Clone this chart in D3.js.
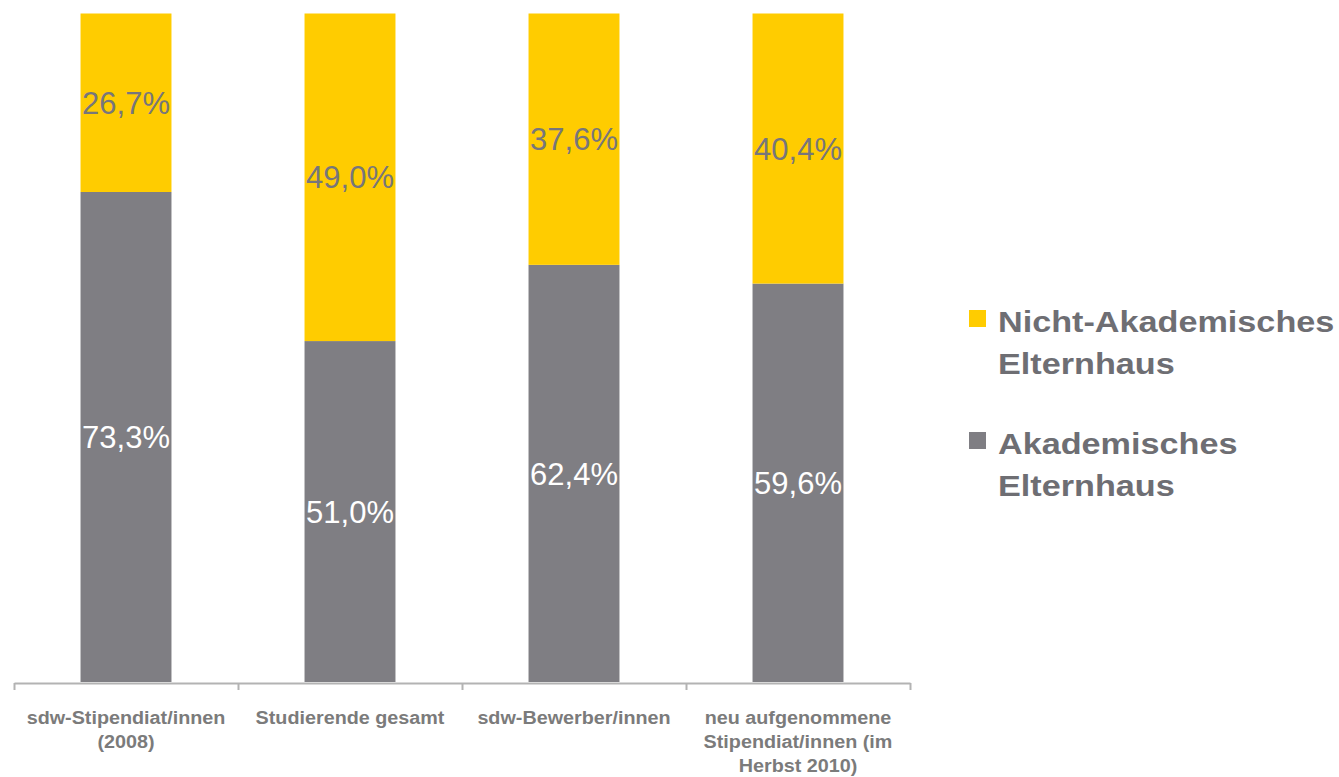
<!DOCTYPE html>
<html>
<head>
<meta charset="utf-8">
<script src="https://cdn.jsdelivr.net/npm/d3@7"></script>
<style>
  body { margin: 0; background: #fff; }
  svg { display: block; font-family: "Liberation Sans", Arial, sans-serif; }
</style>
</head>
<body>
<div id="chart"></div>
<script>
// Data
const categories = [
    ["sdw-Stipendiat/innen", "(2008)"],
    ["Studierende gesamt"],
    ["sdw-Bewerber/innen"],
    ["neu aufgenommene", "Stipendiat/innen (im", "Herbst 2010)"]
];
const akademisch = [73.3, 51.0, 62.4, 59.6];
const nichtAkademisch = [26.7, 49.0, 37.6, 40.4];
const legendItems = [
    {lines: ["Nicht-Akademisches", "Elternhaus"], color: "#ffcc00"},
    {lines: ["Akademisches", "Elternhaus"], color: "#7f7e83"}
];

const W = 1339, H = 777;
const svg = d3.select("#chart").append("svg")
    .attr("width", W)
    .attr("height", H);

const fmt = v => v.toFixed(1).replace(".", ",") + "%";

// Scales
const xScale = d3.scaleBand()
    .domain(d3.range(categories.length))
    .range([14, 910])
    .padding(0);
const edgeScale = d3.scaleLinear()
    .domain([0, categories.length])
    .range([14, 910]);
const yScale = d3.scaleLinear()
    .domain([0, 100])
    .range([682, 13.5]);

const barW = xScale.bandwidth() * 0.406;

// Stack data
const rows = categories.map((c, i) => ({i: i, ak: akademisch[i], nak: nichtAkademisch[i]}));

// Grey (Akademisch) segments at bottom
svg.selectAll(".bar-ak")
    .data(rows)
    .enter()
    .append("rect")
    .attr("class", "bar-ak")
    .attr("x", d => xScale(d.i) + (xScale.bandwidth() - barW) / 2)
    .attr("y", d => yScale(d.ak))
    .attr("width", barW)
    .attr("height", d => yScale(0) - yScale(d.ak))
    .style("fill", "#7f7e83");

// Yellow (Nicht-Akademisch) segments on top
svg.selectAll(".bar-nak")
    .data(rows)
    .enter()
    .append("rect")
    .attr("class", "bar-nak")
    .attr("x", d => xScale(d.i) + (xScale.bandwidth() - barW) / 2)
    .attr("y", d => yScale(d.ak + d.nak))
    .attr("width", barW)
    .attr("height", d => yScale(d.ak) - yScale(d.ak + d.nak))
    .style("fill", "#ffcc00");

// Value labels
svg.selectAll(".lbl-ak")
    .data(rows)
    .enter()
    .append("text")
    .attr("x", d => xScale(d.i) + xScale.bandwidth() / 2)
    .attr("y", d => (yScale(0) + yScale(d.ak)) / 2)
    .attr("dy", "0.36em")
    .attr("text-anchor", "middle")
    .style("font-size", "31px")
    .style("fill", "#ffffff")
    .text(d => fmt(d.ak));

svg.selectAll(".lbl-nak")
    .data(rows)
    .enter()
    .append("text")
    .attr("x", d => xScale(d.i) + xScale.bandwidth() / 2)
    .attr("y", d => (yScale(d.ak) + yScale(d.ak + d.nak)) / 2)
    .attr("dy", "0.36em")
    .attr("text-anchor", "middle")
    .style("font-size", "31px")
    .style("fill", "#77767b")
    .text(d => fmt(d.nak));

// X axis with ticks at category boundaries
const axis = svg.append("g")
    .attr("transform", `translate(0,${yScale(0) + 1})`)
    .call(d3.axisBottom(edgeScale)
        .tickValues(d3.range(categories.length + 1))
        .tickFormat("")
        .tickSize(7)
        .tickSizeOuter(0));
axis.select(".domain").attr("stroke", "#b3b3b3").attr("stroke-width", 2);
axis.selectAll(".tick line").attr("stroke", "#b3b3b3").attr("stroke-width", 2);

// Category labels (glyphs are a bit wider in the original, so stretch horizontally)
categories.forEach((lines, i) => {
    const t = svg.append("g")
        .attr("transform", `translate(${xScale(i) + xScale.bandwidth() / 2},0) scale(1.13,1)`)
        .append("text")
        .attr("text-anchor", "middle")
        .style("font-size", "17.5px")
        .style("font-weight", "bold")
        .style("fill", "#7b7b7b");
    lines.forEach((line, j) => {
        t.append("tspan")
            .attr("x", 0)
            .attr("y", 724 + j * 24)
            .text(line);
    });
});

// Legend
const legend = svg.append("g")
    .attr("transform", "translate(969, 310)");

legendItems.forEach((item, i) => {
    const row = legend.append("g")
        .attr("transform", `translate(0, ${i * 122})`);
    row.append("rect")
        .attr("width", 17)
        .attr("height", 17)
        .attr("fill", item.color);
    const t = row.append("g")
        .attr("transform", "translate(29,0) scale(1.14,1)")
        .append("text")
        .style("font-size", "30px")
        .style("font-weight", "bold")
        .style("fill", "#6e6e73");
    item.lines.forEach((line, j) => {
        t.append("tspan")
            .attr("x", 0)
            .attr("y", 22 + j * 42)
            .text(line);
    });
});
</script>
</body>
</html>
